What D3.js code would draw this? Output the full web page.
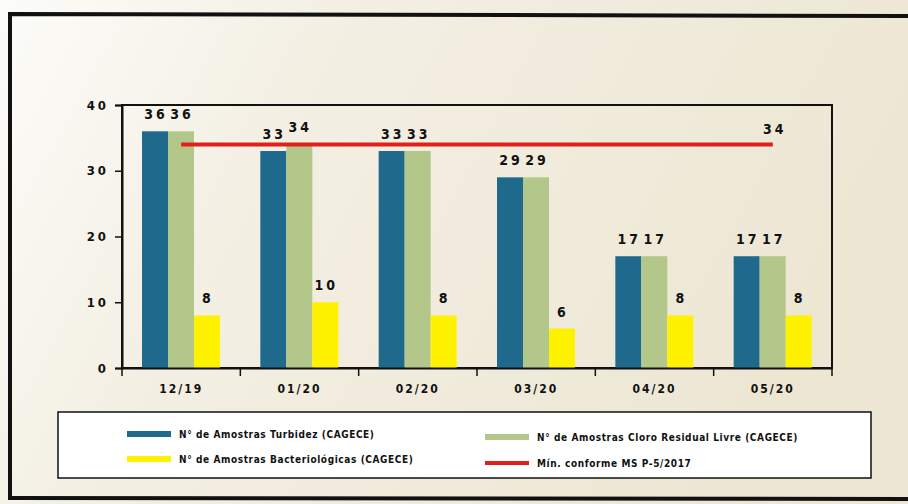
<!DOCTYPE html>
<meta charset="utf-8">
<style type="text/css">
	body { margin: 0; }
	svg text {
	  font-family: "Liberation Sans Narrow", "DejaVu Sans Condensed", "Liberation Sans", sans-serif;
	  font-weight: bold;
	  fill: #111;
	}
</style>
<svg width="908" height="504"></svg>
<script src="https://d3js.org/d3.v7.min.js"></script>
<script type="text/javascript">
	var months = ["12/19", "01/20", "02/20", "03/20", "04/20", "05/20"];
	var turbidez = [36, 33, 33, 29, 17, 17];
	var cloro = [36, 34, 33, 29, 17, 17];
	var bacterio = [8, 10, 8, 6, 8, 8];
	var minConforme = [34, 34, 34, 34, 34, 34];
	var yTicks = [0, 10, 20, 30, 40];
	var legendLabels = ["N° de Amostras Turbidez (CAGECE)", "N° de Amostras Cloro Residual Livre (CAGECE)",
		"N° de Amostras Bacteriológicas (CAGECE)", "Mín. conforme MS P-5/2017"];

	(function() {
	var svg = d3.select("svg"),
		width = +svg.attr("width"),
		height = +svg.attr("height");

	var colors = ["#1f6a8c", "#b3c78a", "#fff200"];
	var series = [turbidez, cloro, bacterio];

	// background paper
	var defs = svg.append("defs");
	var grad = defs.append("linearGradient").attr("id", "paper").attr("x1", "0").attr("y1", "0").attr("x2", "1").attr("y2", "0.3");
	grad.append("stop").attr("offset", "0").attr("stop-color", "#fcfcf9");
	grad.append("stop").attr("offset", "0.35").attr("stop-color", "#f3efe3");
	grad.append("stop").attr("offset", "1").attr("stop-color", "#ede6d3");
	svg.append("rect").attr("width", width).attr("height", height).attr("fill", "url(#paper)");

	// outer frame
	svg.append("path").attr("d", "M10,499 L10,14 L910,16").attr("fill", "none").attr("stroke", "#111").attr("stroke-width", 4);
	svg.append("line").attr("x1", 8).attr("x2", 910).attr("y1", 498).attr("y2", 499).attr("stroke", "#111").attr("stroke-width", 4);

	var pLeft = 122, pRight = 832, pTop = 105, pBottom = 368;

	var x = d3.scaleBand().domain(months).range([pLeft, pRight]).paddingInner(0).paddingOuter(0);
	var inner = d3.scaleBand().domain([0, 1, 2]).range([20, 98]);
	var y = d3.scaleLinear().domain([0, 40]).range([pBottom, pTop]);

	// plot frame
	svg.append("rect").attr("x", pLeft).attr("y", pTop).attr("width", pRight - pLeft).attr("height", pBottom - pTop)
		.attr("fill", "none").attr("stroke", "#111").attr("stroke-width", 2);

	// bars
	series.forEach(function(s, i) {
		svg.append("g").selectAll("rect").data(s).enter().append("rect")
			.attr("x", function(d, j) { return x(months[j]) + inner(i); })
			.attr("y", function(d) { return y(d); })
			.attr("width", inner.bandwidth())
			.attr("height", function(d) { return pBottom - y(d); })
			.attr("fill", colors[i]);
		svg.append("g").selectAll("text").data(s).enter().append("text")
			.attr("x", function(d, j) { return x(months[j]) + inner(i) + inner.bandwidth() / 2 + 1; })
			.attr("y", function(d) { return y(d) - 12; })
			.attr("text-anchor", "middle")
			.style("font-size", "14px").style("letter-spacing", "3px")
			.text(function(d) { return d; });
	});

	// red line
	var line = d3.line().x(function(d, j) { return x(months[j]) + x.bandwidth() / 2; }).y(function(d) { return y(d); });
	svg.append("path").datum(minConforme).attr("d", line).attr("fill", "none").attr("stroke", "#e0201c").attr("stroke-width", 4);
	svg.append("text").attr("x", x(months[5]) + x.bandwidth() / 2 + 2).attr("y", y(minConforme[5]) - 10)
		.attr("text-anchor", "middle").style("font-size", "14px").style("letter-spacing", "3px").text(minConforme[5]);

	// y axis
	var yAxis = svg.append("g").attr("transform", "translate(" + pLeft + ",0)")
		.call(d3.axisLeft(y).tickValues(yTicks).tickSize(7).tickPadding(6));
	yAxis.attr("font-family", null).attr("font-size", null);
	yAxis.select(".domain").attr("stroke", "#111").attr("stroke-width", 2);
	yAxis.selectAll("line").attr("stroke", "#111").attr("stroke-width", 1.5);
	yAxis.selectAll("text").style("font-size", "13px").style("letter-spacing", "3px").attr("fill", "#111");

	// x axis
	var xAxis = svg.append("g").attr("transform", "translate(0," + pBottom + ")")
		.call(d3.axisBottom(x).tickSize(0).tickPadding(16));
	xAxis.attr("font-family", null).attr("font-size", null);
	xAxis.select(".domain").attr("stroke", "#111").attr("stroke-width", 2);
	xAxis.selectAll("text").style("font-size", "12px").style("letter-spacing", "2px").attr("fill", "#111");
	svg.append("g").selectAll("line").data(months.concat(["end"])).enter().append("line")
		.attr("x1", function(d, j) { return pLeft + j * x.bandwidth(); })
		.attr("x2", function(d, j) { return pLeft + j * x.bandwidth(); })
		.attr("y1", pBottom).attr("y2", pBottom + 8)
		.attr("stroke", "#111").attr("stroke-width", 1.5);

	// legend
	svg.append("rect").attr("x", 58).attr("y", 412).attr("width", 813).attr("height", 66)
		.attr("fill", "#fff").attr("stroke", "#111").attr("stroke-width", 1.5);
	var legendPos = [[127, 434], [485, 437], [127, 459], [485, 463]];
	var legendColors = [colors[0], colors[1], colors[2], "#e0201c"];
	var lg = svg.append("g").selectAll("g").data(legendLabels).enter().append("g")
		.attr("transform", function(d, i) { return "translate(" + legendPos[i][0] + "," + legendPos[i][1] + ")"; });
	lg.append("rect").attr("x", 0).attr("y", function(d, i) { return i == 3 ? -2 : -3; })
		.attr("width", 44).attr("height", function(d, i) { return i == 3 ? 4 : 6; })
		.attr("fill", function(d, i) { return legendColors[i]; });
	lg.append("text").attr("x", 52).attr("y", 4)
		.style("font-size", "10px").style("letter-spacing", "0.6px")
		.text(function(d) { return d; });
	})();
</script>
